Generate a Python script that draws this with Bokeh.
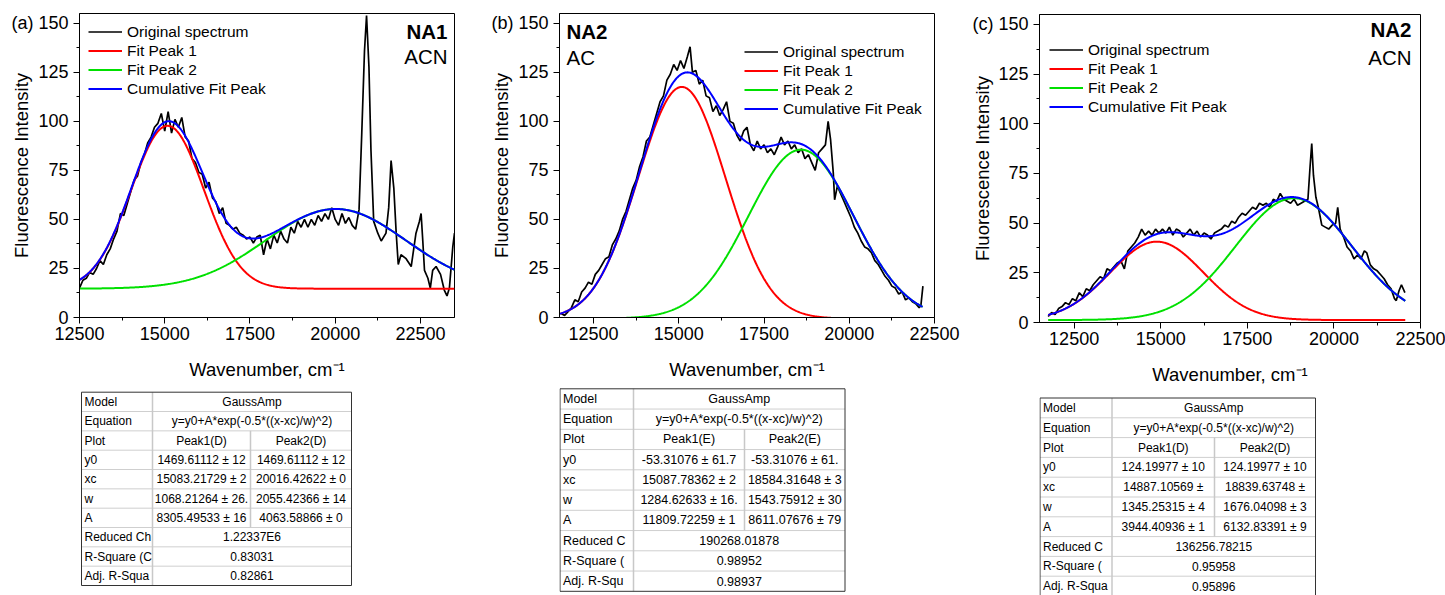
import numpy as np
from bokeh.plotting import figure
from bokeh.models import Range1d, FixedTicker, Legend, LegendItem, Label
from bokeh.layouts import row, column
from bokeh.embed import file_html
from bokeh.resources import INLINE
from bokeh.core.properties import value

FONT = "Liberation Sans"

# ---------------- data: original spectra ----------------
SPEC_A_X = [12500, 12600, 12700, 12800, 12900, 13000, 13100, 13200, 13300, 13400,
            13500, 13600, 13700, 13800, 13900, 14000, 14100, 14200, 14300, 14400,
            14500, 14600, 14700, 14800, 14900, 15000, 15100, 15200, 15300, 15400,
            15500, 15600, 15700, 15800, 15900, 16000, 16100, 16200, 16300, 16400,
            16500, 16600, 16700, 16800, 16900, 17000, 17100, 17200, 17300, 17400,
            17500, 17600, 17700, 17800, 17900, 18000, 18100, 18200, 18300, 18400,
            18500, 18600, 18700, 18800, 18900, 19000, 19100, 19200, 19300, 19400,
            19500, 19600, 19700, 19800, 19900, 20000, 20100, 20200, 20300, 20400,
            20500, 20600, 20700, 20780, 20860, 20920, 20990, 21050, 21130, 21250,
            21350, 21490, 21570, 21640, 21720, 21790, 21850, 21930, 22080, 22230,
            22370, 22470, 22520, 22570, 22620, 22720, 22790, 22860, 22960, 23090,
            23200, 23280, 23350, 23450, 23500]
SPEC_A_Y = [15, 19, 20, 23, 22, 25, 29, 27, 32, 35,
            40, 44, 53, 52, 58, 64, 70, 72, 79, 83,
            89, 92, 97, 99, 104, 95, 105, 94, 101, 97,
            102, 92, 90, 81, 79, 74, 73, 66, 69, 61,
            59, 53, 56, 48, 47, 45, 46, 43, 42, 40,
            41, 38, 41, 42, 32, 40, 35, 42, 38, 44,
            40, 38, 46, 43, 49, 46, 50, 46, 50, 47,
            52, 49, 53, 50, 56, 50, 47, 53, 48, 51,
            47, 45, 55, 94, 136, 154, 128, 85, 49, 43,
            39, 43, 56, 80, 66, 43, 27, 32, 30, 26,
            43, 49, 53, 39, 24, 20, 15, 24, 26, 22,
            14, 11, 15, 36, 43]

SPEC_B_X = [11550, 11650, 11750, 11850, 11950, 12050, 12150, 12250, 12350, 12450,
            12550, 12650, 12750, 12850, 12950, 13050, 13150, 13250, 13350, 13450,
            13550, 13650, 13750, 13850, 13950, 14050, 14150, 14250, 14350, 14450,
            14550, 14650, 14750, 14850, 14950, 15050, 15150, 15250, 15330, 15400,
            15500, 15600, 15700, 15800, 15900, 16000, 16100, 16200, 16300, 16400,
            16500, 16600, 16700, 16800, 16900, 17000, 17100, 17200, 17300, 17400,
            17500, 17600, 17700, 17800, 17900, 18000, 18100, 18200, 18300, 18400,
            18500, 18600, 18700, 18800, 18900, 19000, 19100, 19200, 19300, 19380,
            19450, 19530, 19570, 19650, 19750, 19850, 19950, 20050, 20150, 20250,
            20350, 20450, 20550, 20650, 20750, 20850, 20950, 21050, 21150, 21250,
            21350, 21450, 21550, 21650, 21750, 21850, 21950, 22050, 22100, 22160]
SPEC_B_Y = [2, 1, 3, 5, 9, 8, 13, 15, 18, 17,
            22, 24, 27, 30, 31, 37, 40, 44, 50, 54,
            60, 66, 70, 77, 82, 90, 92, 98, 104, 110,
            113, 121, 124, 129, 126, 131, 127, 133, 138, 125,
            126, 119, 121, 113, 112, 105, 108, 103, 106, 110,
            100, 99, 93, 90, 95, 97, 88, 85, 90, 86,
            88, 84, 86, 83, 87, 92, 88, 90, 86, 88,
            84, 86, 81, 83, 79, 75, 84, 86, 88, 100,
            91, 74, 60, 67, 63, 59, 55, 51, 46, 43,
            39, 36, 35, 33, 29, 27, 24, 21, 19, 16,
            15, 12, 13, 9, 10, 8, 7, 5, 6, 16]

SPEC_C_X = [11750, 11850, 11950, 12050, 12150, 12250, 12350, 12450, 12550, 12650,
            12750, 12850, 12950, 13050, 13150, 13250, 13350, 13450, 13550, 13650,
            13750, 13850, 13950, 14050, 14150, 14250, 14350, 14450, 14550, 14650,
            14750, 14850, 14950, 15050, 15150, 15250, 15350, 15450, 15550, 15650,
            15750, 15850, 15950, 16050, 16150, 16250, 16350, 16450, 16550, 16650,
            16750, 16850, 16950, 17050, 17150, 17250, 17350, 17450, 17550, 17650,
            17750, 17850, 17950, 18050, 18150, 18250, 18350, 18450, 18550, 18650,
            18750, 18850, 18950, 19050, 19150, 19250, 19310, 19360, 19410, 19480,
            19550, 19650, 19750, 19850, 19950, 20050, 20110, 20180, 20280, 20380,
            20480, 20580, 20680, 20780, 20880, 20950, 21050, 21150, 21250, 21350,
            21450, 21550, 21650, 21750, 21800, 21880, 21950, 22050]
SPEC_C_Y = [3, 5, 4, 7, 8, 10, 9, 12, 11, 15,
            13, 17, 16, 19, 21, 23, 22, 27, 26, 28,
            30, 31, 27, 36, 38, 40, 43, 47, 44, 46,
            44, 47, 45, 47, 45, 48, 44, 47, 46, 43,
            45, 47, 44, 46, 43, 45, 44, 42, 45, 46,
            47, 49, 48, 51, 50, 53, 55, 54, 56, 58,
            57, 60, 59, 60, 58, 62, 61, 65, 62, 61,
            60, 62, 59, 60, 61, 62, 78, 90, 74, 63,
            58, 49, 48, 47, 49, 50, 58, 47, 43, 38,
            36, 32, 34, 32, 36, 35, 29, 27, 26, 24,
            22, 19, 17, 12, 11, 16, 19, 15]

# ---------------- fit parameters (from the result tables) ----------------
EQUATION = "y=y0+A*exp(-0.5*((x-xc)/w)^2)"
PLOT_SCALE = 0.01  # plotted intensity = fitted counts / 100

FIT_A_Y0 = 1469.61112
FIT_A_XC = [15083.21729, 20016.42622]
FIT_A_W = [1068.21264, 2055.42366]
FIT_A_AMP = [8305.49533, 4063.58866]

FIT_B_Y0 = -53.31076
FIT_B_XC = [15087.78362, 18584.31648]
FIT_B_W = [1284.62633, 1543.75912]
FIT_B_AMP = [11809.72259, 8611.07676]

FIT_C_Y0 = 124.19977
FIT_C_XC = [14887.10569, 18839.63748]
FIT_C_W = [1345.25315, 1676.04098]
FIT_C_AMP = [3944.40936, 6132.83391]

# ---------------- table texts ----------------
TAB_A_LABELS = ["Model", "Equation", "Plot", "y0", "xc", "w", "A", "Reduced Ch", "R-Square (C", "Adj. R-Squa"]
TAB_A_COL1 = ["GaussAmp", EQUATION, "Peak1(D)", "1469.61112 ± 12", "15083.21729 ± 2",
              "1068.21264 ± 26.", "8305.49533 ± 16", "1.22337E6", "0.83031", "0.82861"]
TAB_A_COL2 = [None, None, "Peak2(D)", "1469.61112 ± 12", "20016.42622 ± 0",
              "2055.42366 ± 14", "4063.58866 ± 0", None, None, None]

TAB_B_LABELS = ["Model", "Equation", "Plot", "y0", "xc", "w", "A", "Reduced C", "R-Square (", "Adj. R-Squ"]
TAB_B_COL1 = ["GaussAmp", EQUATION, "Peak1(E)", "-53.31076 ± 61.7", "15087.78362 ± 2",
              "1284.62633 ± 16.", "11809.72259 ± 1", "190268.01878", "0.98952", "0.98937"]
TAB_B_COL2 = [None, None, "Peak2(E)", "-53.31076 ± 61.", "18584.31648 ± 3",
              "1543.75912 ± 30", "8611.07676 ± 79", None, None, None]

TAB_C_LABELS = ["Model", "Equation", "Plot", "y0", "xc", "w", "A", "Reduced C", "R-Square (", "Adj. R-Squa"]
TAB_C_COL1 = ["GaussAmp", EQUATION, "Peak1(D)", "124.19977 ± 10", "14887.10569 ±",
              "1345.25315 ± 4", "3944.40936 ± 1", "136256.78215", "0.95958", "0.95896"]
TAB_C_COL2 = [None, None, "Peak2(D)", "124.19977 ± 10", "18839.63748 ±",
              "1676.04098 ± 3", "6132.83391 ± 9", None, None, None]

LEGEND_LABELS = ["Original spectrum", "Fit Peak 1", "Fit Peak 2", "Cumulative Fit Peak"]
X_TICKS = [12500, 15000, 17500, 20000, 22500]
X_MINOR = [11250, 13750, 16250, 18750, 21250]
Y_TICKS = [0, 25, 50, 75, 100, 125, 150]
Y_MINOR = [12.5, 37.5, 62.5, 87.5, 112.5, 137.5]

COLORS = ["#000000", "#ff0000", "#00e000", "#0000ff"]


def gauss_curves(x, y0, xcs, ws, amps):
    peaks = [PLOT_SCALE * (y0 + a * np.exp(-0.5 * ((x - c) / w) ** 2)) for c, w, a in zip(xcs, ws, amps)]
    total = PLOT_SCALE * (y0 + sum(a * np.exp(-0.5 * ((x - c) / w) ** 2) for c, w, a in zip(xcs, ws, amps)))
    return peaks[0], peaks[1], total


def make_plot(sx, sy, xr, fit_span, fit, W, H, bl, br, bt, fh, leg_loc, tag, name, solvent,
              right_names, name_dx, name_dy):
    p = figure(width=W, height=H, x_range=Range1d(*xr), y_range=Range1d(0, 155),
               output_backend="svg", toolbar_location=None, title_location=None,
               min_border_left=bl, min_border_right=br, min_border_top=bt,
               min_border_bottom=H - bt - fh)
    p.background_fill_color = "white"
    p.border_fill_color = "white"
    p.xgrid.visible = False
    p.ygrid.visible = False
    p.outline_line_color = "#000000"
    p.outline_line_width = 1
    p.outline_line_alpha = 1

    p.xaxis.ticker = FixedTicker(ticks=X_TICKS, minor_ticks=X_MINOR)
    p.yaxis.ticker = FixedTicker(ticks=Y_TICKS, minor_ticks=Y_MINOR)
    for ax in (p.xaxis, p.yaxis):
        ax.major_tick_out = 6
        ax.major_tick_in = 0
        ax.minor_tick_out = 3
        ax.minor_tick_in = 0
        ax.axis_line_color = "#000000"
        ax.major_tick_line_color = "#000000"
        ax.minor_tick_line_color = "#000000"
        ax.major_label_text_font = FONT
        ax.major_label_text_font_size = "18px"
        ax.major_label_text_color = "#000000"
        ax.axis_label_text_font = FONT
        ax.axis_label_text_font_size = "18.5px"
        ax.axis_label_text_font_style = "normal"
        ax.axis_label_text_color = "#000000"
    p.xaxis.axis_label = "Wavenumber, cm⁻¹"
    p.yaxis.axis_label = "Fluorescence Intensity"
    # panel tag sits on the same line as the top tick label
    p.yaxis.major_label_overrides = {150: tag + " 150"}
    p.xaxis.major_label_standoff = 3
    p.yaxis.major_label_standoff = 5
    p.xaxis.axis_label_standoff = 16
    p.yaxis.axis_label_standoff = -24

    fx = np.linspace(fit_span[0], fit_span[1], 500)
    p1, p2, tot = gauss_curves(fx, *fit)
    r0 = p.line(sx, sy, line_color=COLORS[0], line_width=1.7)
    r1 = p.line(fx, p1, line_color=COLORS[1], line_width=2)
    r2 = p.line(fx, p2, line_color=COLORS[2], line_width=2)
    r3 = p.line(fx, tot, line_color=COLORS[3], line_width=2)

    items = [LegendItem(label=lab, renderers=[r]) for lab, r in zip(LEGEND_LABELS, [r0, r1, r2, r3])]
    leg = Legend(items=items, location=leg_loc, border_line_color=None, background_fill_alpha=0,
                 glyph_width=34, glyph_height=19, label_height=19, label_standoff=5,
                 spacing=0, padding=9, margin=0,
                 label_text_font=FONT, label_text_font_size="15.5px", label_text_color="#000000")
    p.add_layout(leg)

    ax_x = xr[1] if right_names else xr[0]
    align = "right" if right_names else "left"
    p.add_layout(Label(x=ax_x, y=155, x_offset=name_dx, y_offset=-name_dy[0], text=name,
                       text_font=FONT, text_font_size="20.5px", text_font_style="bold",
                       text_align=align, text_baseline="alphabetic", text_color="#000000"))
    p.add_layout(Label(x=ax_x, y=155, x_offset=name_dx, y_offset=-name_dy[1], text=solvent,
                       text_font=FONT, text_font_size="20.5px",
                       text_align=align, text_baseline="alphabetic", text_color="#000000"))
    return p


def make_table(labels, col1, col2, W, H, bl, br, xs, top, rh, fs):
    fw = W - bl - br
    t = figure(width=W, height=H, x_range=Range1d(0, fw), y_range=Range1d(H, 0),
               output_backend="svg", toolbar_location=None, title_location=None,
               x_axis_location=None, y_axis_location=None,
               min_border_left=bl, min_border_right=br, min_border_top=0, min_border_bottom=0)
    t.outline_line_color = None
    t.grid.visible = False
    t.background_fill_color = "white"
    t.border_fill_color = "white"
    x0, x1, x2, x3 = xs
    n = len(labels)
    bottom = top + n * rh
    hy = [top + i * rh for i in range(1, n)]
    t.segment(x0=[x0] * len(hy), y0=hy, x1=[x3] * len(hy), y1=hy, line_color="#cfcfcf", line_width=1)
    t.segment(x0=[x1], y0=[top], x1=[x1], y1=[bottom], line_color="#c8c8c8", line_width=1.5)
    split_rows = [i for i, v in enumerate(col2) if v is not None]
    t.segment(x0=[x2], y0=[top + min(split_rows) * rh], x1=[x2], y1=[top + (max(split_rows) + 1) * rh],
              line_color="#c8c8c8", line_width=1.5)
    t.quad(left=[x0], right=[x3], top=[top], bottom=[bottom], fill_color=None,
           line_color="#333333", line_width=1)
    cy = [top + (i + 0.5) * rh for i in range(n)]
    t.text(x=[x0 + 3] * n, y=cy, text=labels, text_align="left", text_baseline="middle",
           text_font=value(FONT), text_font_size=value(fs), text_color="#000000")
    vx, vy, vt = [], [], []
    for i in range(n):
        if col2[i] is None:
            vx.append((x1 + x3) / 2); vy.append(cy[i]); vt.append(col1[i])
        else:
            vx.append((x1 + x2) / 2); vy.append(cy[i]); vt.append(col1[i])
            vx.append((x2 + x3) / 2); vy.append(cy[i]); vt.append(col2[i])
    t.text(x=vx, y=vy, text=vt, text_align="center", text_baseline="middle",
           text_font=value(FONT), text_font_size=value(fs), text_color="#000000")
    return t


pa = make_plot(SPEC_A_X, SPEC_A_Y, (12500, 23500), (12500, 23500),
               (FIT_A_Y0, FIT_A_XC, FIT_A_W, FIT_A_AMP),
               484, 388, 79, 30, 13, 304, (9, 219), "(a)", "NA1", "ACN", True, -7, (18.2, 43.2))
pb = make_plot(SPEC_B_X, SPEC_B_Y, (11500, 22500), (11500, 22150),
               (FIT_B_Y0, FIT_B_XC, FIT_B_W, FIT_B_AMP),
               480, 386, 75, 30, 13, 304, (185, 199), "(b)", "NA2", "AC", False, 7, (17.5, 44.2))
pc = make_plot(SPEC_C_X, SPEC_C_Y, (11500, 22500), (11750, 22060),
               (FIT_C_Y0, FIT_C_XC, FIT_C_W, FIT_C_AMP),
               481, 395, 75, 25, 14, 308, (10, 206), "(c)", "NA2", "ACN", True, -9, (14.8, 42.5))

ta = make_table(TAB_A_LABELS, TAB_A_COL1, TAB_A_COL2, 484, 207, 79, 30, (2, 73, 171, 272), 3.7, 19.33, "12px")
tb = make_table(TAB_B_LABELS, TAB_B_COL1, TAB_B_COL2, 480, 209, 75, 30, (0.5, 74, 185, 285.5), 2.3, 20.25, "12.5px")
tc = make_table(TAB_C_LABELS, TAB_C_COL1, TAB_C_COL2, 481, 200, 75, 25, (0.5, 72.5, 175, 276), 2.5, 19.8, "12px")

layout = row(column(pa, ta), column(pb, tb), column(pc, tc))
open("out.html", "w").write(file_html(layout, INLINE))
